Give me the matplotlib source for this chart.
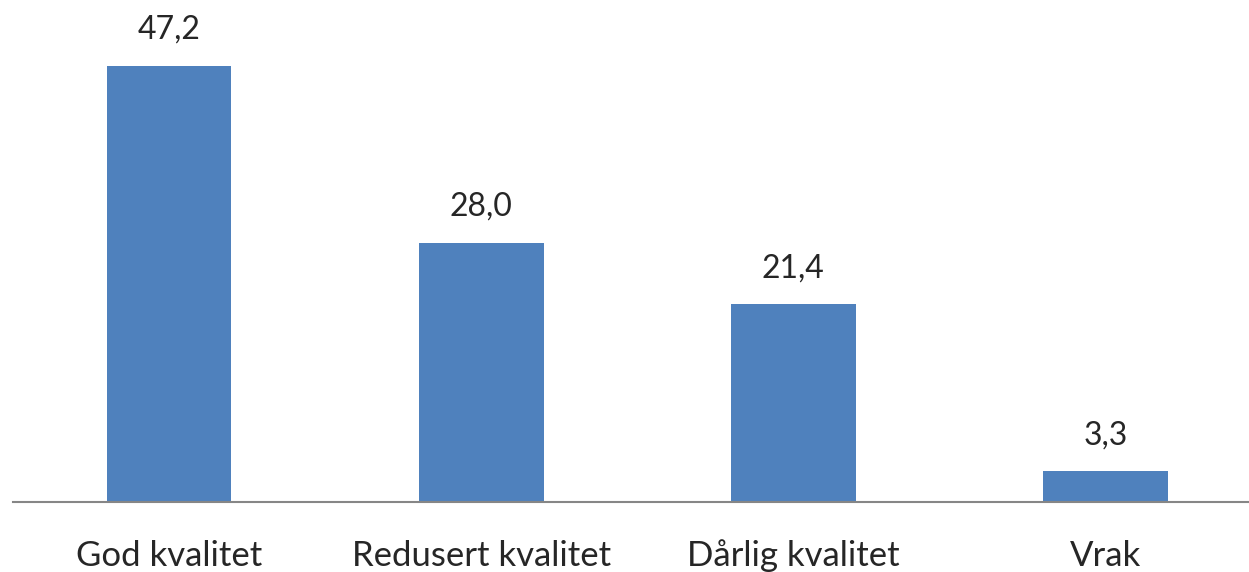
import matplotlib
matplotlib.use("Agg")
import matplotlib.pyplot as plt

categories = ["God kvalitet", "Redusert kvalitet", "Dårlig kvalitet", "Vrak"]
values = [47.2, 28.0, 21.4, 3.3]
labels = ["47,2", "28,0", "21,4", "3,3"]

plt.rcParams['font.family'] = ['Lato', 'DejaVu Sans']

W, H = 1249, 572
fig = plt.figure(figsize=(W / 100, H / 100), dpi=100)
ax = fig.add_axes([13 / W, 70 / H, (W - 13) / W, 502 / H])

x = range(len(categories))
ax.bar(x, values, width=0.4, color="#4F81BD")
for i, v in enumerate(values):
    ax.annotate(labels[i], (i, v), xytext=(0, 26), textcoords="offset points",
                ha="center", va="center", fontsize=23, color="#262626")

ax.set_xlim(-0.5, 3.46)
ax.set_ylim(0, 54.3)
ax.set_xticks(list(x))
ax.set_xticklabels(categories, fontsize=25, color="#262626")
ax.tick_params(axis="x", length=0, pad=27)
ax.set_yticks([])
for s in ["top", "right", "left"]:
    ax.spines[s].set_visible(False)
ax.spines["bottom"].set_color("#868686")
ax.spines["bottom"].set_linewidth(1.5)

fig.savefig("out.png", dpi=100)
